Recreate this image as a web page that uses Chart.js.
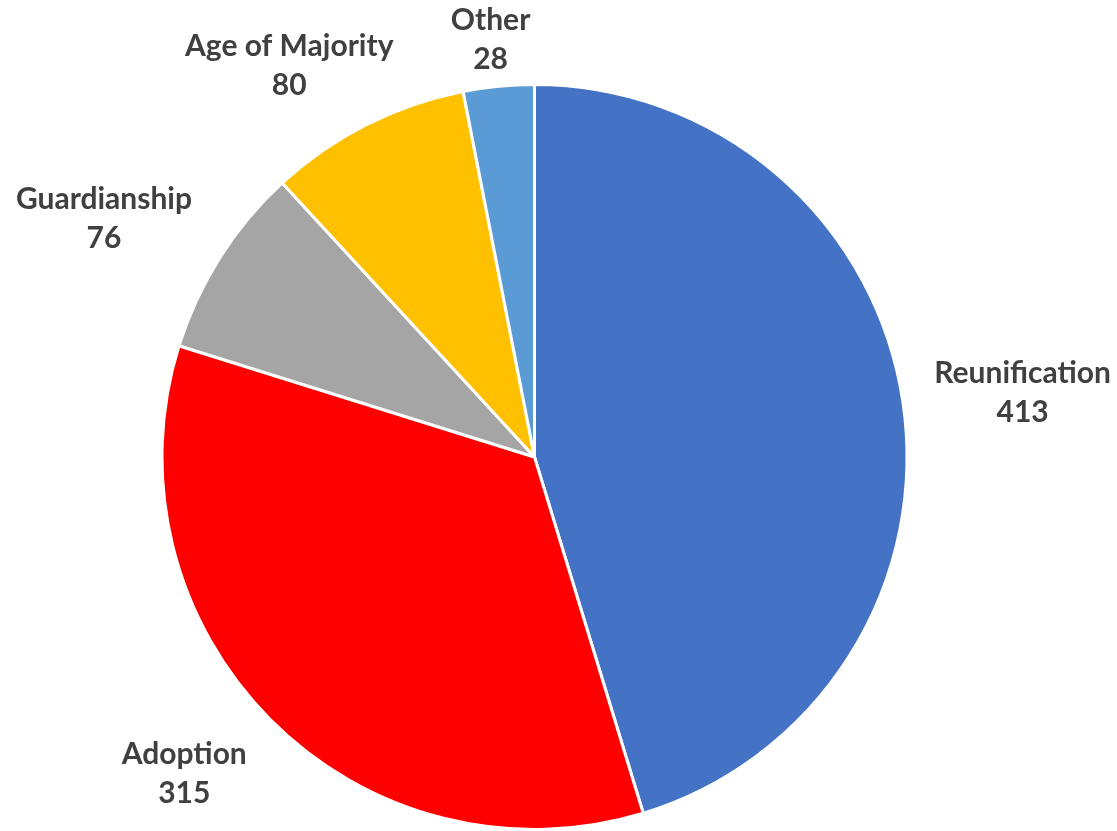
<!DOCTYPE html>
<html>
<head>
<meta charset="utf-8">
<script src="https://cdn.jsdelivr.net/npm/chart.js@4"></script>
<style>
  html, body { margin: 0; padding: 0; background: #fff; }
  #wrap { width: 1117px; height: 831px; position: relative; }
</style>
</head>
<body>
<div id="wrap"><canvas id="c" width="1117" height="831"></canvas></div>
<script>
const categories = ["Reunification", "Adoption", "Guardianship", "Age of Majority", "Other"];
const values = [413, 315, 76, 80, 28];
const colors = ["#4472C4", "#FF0000", "#A5A5A5", "#FFC000", "#5B9BD5"];

const FONT_SIZE = 30;
const FONT = "bold " + FONT_SIZE + "px Lato";
const LINE_H = 39;
const CAP_H = 21.5;
const GAP = 33;

const outsideLabels = {
  id: 'outsideLabels',
  afterDatasetsDraw(chart) {
    const ctx = chart.ctx;
    const meta = chart.getDatasetMeta(0);
    const W = chart.width, H = chart.height;
    ctx.save();
    ctx.font = FONT;
    ctx.fillStyle = '#404040';
    ctx.textAlign = 'center';
    ctx.textBaseline = 'alphabetic';
    meta.data.forEach((arc, i) => {
      const p = arc.getProps(['x', 'y', 'startAngle', 'endAngle', 'outerRadius'], true);
      const mid = (p.startAngle + p.endAngle) / 2;
      const ux = Math.cos(mid), uy = Math.sin(mid);
      const lines = [chart.data.labels[i], String(chart.data.datasets[0].data[i])];
      const w = Math.max(...lines.map(l => ctx.measureText(l).width));
      const h = CAP_H + LINE_H * (lines.length - 1);
      // angle clockwise from top, degrees
      let th = ((mid + Math.PI / 2) * 180 / Math.PI) % 360;
      if (th < 0) th += 360;
      let bx, by;
      if (th >= 315 || th < 45) {
        const f = ((th - 315 + 360) % 360) / 90; bx = w * (1 - f); by = h;
      } else if (th < 135) {
        const f = (th - 45) / 90; bx = 0; by = h * (1 - f);
      } else if (th < 225) {
        const f = (th - 135) / 90; bx = w * f; by = 0;
      } else {
        const f = (th - 225) / 90; bx = w; by = h * f;
      }
      const d = p.outerRadius + GAP;
      const px = p.x + ux * d, py = p.y + uy * d;
      let left = px - bx, top = py - by;
      left = Math.min(Math.max(left, 8), W - w - 6);
      top = Math.min(Math.max(top, 8), H - h - 8);
      lines.forEach((l, j) => {
        ctx.fillText(l, left + w / 2, top + CAP_H + LINE_H * j);
      });
    });
    ctx.restore();
  }
};

new Chart(document.getElementById('c'), {
  type: 'pie',
  data: {
    labels: categories,
    datasets: [{
      data: values,
      backgroundColor: colors,
      borderColor: '#ffffff',
      borderWidth: 3
    }]
  },
  options: {
    responsive: false,
    animation: false,
    layout: { padding: { top: 83, bottom: 0, left: 160, right: 208 } },
    plugins: {
      legend: { display: false },
      tooltip: { enabled: false }
    }
  },
  plugins: [outsideLabels]
});
</script>
</body>
</html>
